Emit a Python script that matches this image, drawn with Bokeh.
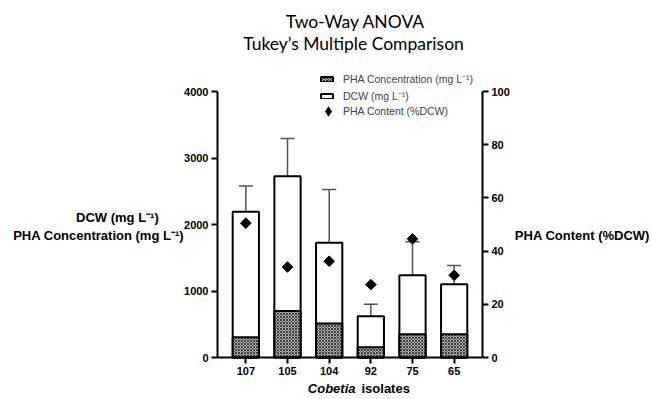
import math
from bokeh.plotting import figure
from bokeh.models import (ColumnDataSource, FactorRange, Range1d, LinearAxis, FixedTicker,
                          Whisker, TeeHead, Legend, LegendItem, Label)
from bokeh.embed import file_html
from bokeh.resources import INLINE

isolates = ["107", "105", "104", "92", "75", "65"]
dcw = [2190, 2725, 1725, 620, 1235, 1100]
dcw_err = [390, 570, 800, 180, 505, 285]
pha_conc = [305, 700, 510, 155, 350, 350]
pha_conc_err = [85, 275, 265, 40, 140, 100]
pha_content = [50.5, 34.0, 36.2, 27.4, 44.6, 30.9]
left_ticks = [0, 1000, 2000, 3000, 4000]
right_ticks = [0, 20, 40, 60, 80, 100]

src = ColumnDataSource(dict(
    iso=isolates, dcw=dcw, dcw_up=[v + e for v, e in zip(dcw, dcw_err)],
    pha=pha_conc, pha_up=[v + e for v, e in zip(pha_conc, pha_conc_err)],
    pct=pha_content))

FONT = "Liberation Sans"
H = 397
Y0 = 357          # pixel row of value 0
PX_PER_FULL = 266  # pixels from 0 to axis max
left_max, right_max = 4000, 100

p = figure(width=652, height=H,
           x_range=FactorRange(*isolates, range_padding=0.06, factor_padding=0),
           y_range=Range1d(-(H - Y0) * left_max / PX_PER_FULL, Y0 * left_max / PX_PER_FULL),
           output_backend="svg", toolbar_location=None,
           min_border_left=217, min_border_right=163, min_border_top=0, min_border_bottom=0)
p.extra_y_ranges = {"pct": Range1d(-(H - Y0) * right_max / PX_PER_FULL,
                                   Y0 * right_max / PX_PER_FULL)}
p.outline_line_color = None
p.xgrid.visible = False
p.ygrid.visible = False

r_dcw = p.vbar(x="iso", top="dcw", width=0.63, source=src, fill_color="white",
               line_color="black", line_width=2)
r_pha = p.vbar(x="iso", top="pha", width=0.63, source=src, fill_color="#b0b0b0",
               line_color="black", line_width=2, hatch_pattern="diagonal_cross",
               hatch_color="#404040", hatch_scale=3, hatch_weight=1)

for lo, up in (("dcw", "dcw_up"), ("pha", "pha_up")):
    w = Whisker(base="iso", lower=lo, upper=up, source=src, line_color="#555555", line_width=1.5,
                upper_head=TeeHead(size=14, line_color="#555555", line_width=1.5),
                lower_head=None)
    p.add_layout(w)

r_pct = p.scatter(x="iso", y="pct", source=src, y_range_name="pct", marker="square",
                  angle=math.pi / 4, size=7.5, fill_color="black", line_color="black",
                  level="overlay")
# key icon for the PHA content series (zero-size points, only its legend icon shows)
r_pct_key = p.scatter(x="iso", y="pct", source=src, y_range_name="pct", marker="diamond",
                      size=0, fill_color="black", line_color=None)

def style_axis(ax):
    ax.axis_line_width = 2
    ax.axis_line_color = "black"
    ax.major_tick_line_width = 2
    ax.major_tick_out = 6
    ax.major_tick_in = 0
    ax.minor_tick_line_color = None
    ax.major_label_text_font = FONT
    ax.major_label_text_font_style = "bold"
    ax.major_label_text_font_size = "11px"
    ax.major_label_text_color = "black"
    ax.major_label_standoff = 3
    ax.axis_label_text_font = FONT
    ax.axis_label_text_font_style = "bold"
    ax.axis_label_text_font_size = "13px"
    ax.axis_label_text_color = "black"
    ax.axis_label_orientation = "horizontal"
    ax.axis_label_standoff = 0

NB = "\u00a0"
p.yaxis.ticker = FixedTicker(ticks=left_ticks)
style_axis(p.yaxis[0])
p.yaxis.bounds = (0, left_max)
p.yaxis.axis_label = ("\n\n\nDCW (mg L\u207b\u00b9)" + NB * 7 +
                      "\nPHA Concentration (mg L\u207b\u00b9)")
p.yaxis.axis_label_standoff = -3
style_axis(p.xaxis[0])
p.xaxis.fixed_location = 0
right = LinearAxis(y_range_name="pct", ticker=FixedTicker(ticks=right_ticks),
                   axis_label="\n\n\n\nPHA Content (%DCW)", bounds=(0, right_max))
style_axis(right)
right.axis_label_standoff = 2
p.add_layout(right, "right")

leg1 = Legend(items=[LegendItem(label="PHA Concentration (mg L\u207b\u00b9)", renderers=[r_pha]),
                     LegendItem(label="DCW (mg L\u207b\u00b9)", renderers=[r_dcw])],
              location=(102, 294), padding=0, margin=0, spacing=3,
              glyph_width=15, glyph_height=6, label_height=12, label_standoff=9,
              label_text_font=FONT, label_text_font_size="10.5px",
              border_line_color=None, background_fill_alpha=0)
leg2 = Legend(items=[LegendItem(label="PHA Content (%DCW)", renderers=[r_pct_key])],
              location=(98, 273.5), padding=0, margin=0,
              glyph_width=26, glyph_height=26, label_height=26, label_standoff=2,
              label_text_font=FONT, label_text_font_size="10.5px",
              border_line_color=None, background_fill_alpha=0)
p.add_layout(leg1)
p.add_layout(leg2)

def lab(text, x, y, align="center", size="13px", style="bold", font=FONT):
    p.add_layout(Label(text=text, x=x, y=y, x_units="screen", y_units="screen",
                       text_align=align, text_baseline="middle", text_font=font,
                       text_font_size=size, text_font_style=style, text_color="black"))

lab("Two-Way ANOVA", 138, 376, size="17.5px", style="normal", font="Lato")
lab("Tukey\u2019s Multiple Comparison", 136, 354, size="17.5px", style="normal", font="Lato")
lab("Cobetia", 138, 9, align="right", style="bold italic")
lab("isolates", 144, 9, align="left")

open("out.html", "w").write(file_html(p, INLINE))
